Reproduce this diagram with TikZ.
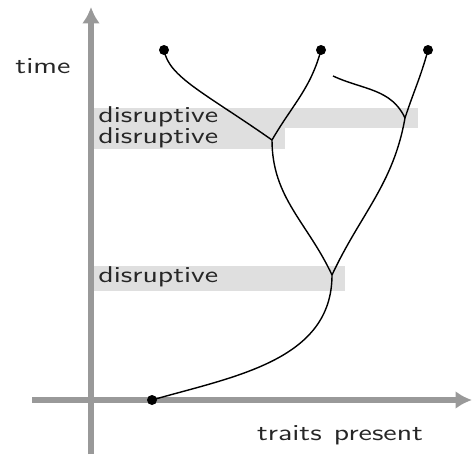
\documentclass[tikz,border=0pt]{standalone}
\usetikzlibrary{arrows.meta,positioning,calc}

\begin{document}
\begin{tikzpicture}[x=0.02cm,y=0.02cm,
	axis/.style={line width=3.4pt,gray!80,-{Latex[length=3.3mm,width=3.6mm]}},
	lineage/.style={thick,black},
	band/.style={fill=gray!25,inner sep=0,anchor=north west},
	lbl/.style={font=\sffamily\fontsize{13}{16}\selectfont,text=black!85,inner sep=0,xscale=1.34,transform shape},
	dot/.style={circle,fill=black,inner sep=0,minimum size=0.2cm}]
	\useasboundingbox (0,0) rectangle (473,454);

	% bands
	\node[band,minimum width=6.5cm,minimum height=0.4cm] (band1) at (93,346) {};
	\node[band,minimum width=3.84cm,minimum height=0.42cm] (band2) at (93,326) {};
	\node[band,minimum width=5.04cm,minimum height=0.5cm] (band3) at (93,188) {};
	\node[lbl,anchor=base west] (dis1) at (98,332) {disruptive};
	\node[lbl,anchor=base west] (dis2) at (98,311) {disruptive};
	\node[lbl,anchor=base west] (dis3) at (98,172) {disruptive};

	% axes
	\coordinate (ybot) at (91,0);
	\coordinate (ytop) at (91,447);
	\coordinate (xleft) at (32,54);
	\coordinate (xright) at (472,54);
	\draw[axis] (ybot) -- (ytop);
	\draw[axis] (xleft) -- (xright);
	\node[lbl,anchor=base west] (time) at (15,381) {time};
	\node[lbl,anchor=base] (traits) at (340,14) {traits\hspace{0.4em}present};

	% lineages
	\coordinate (A) at (332,179);
	\coordinate (B) at (272,314);
	\coordinate (C) at (405,336);
	\coordinate (E) at (333,378);
	\node[dot] (root) at (152,54) {};
	\node[dot] (tipL) at (164,404) {};
	\node[dot] (tipM) at (321,404) {};
	\node[dot] (tipR) at (428,404) {};
	\draw[lineage] (root.center) to[out=16,in=-90] (A);
	\draw[lineage] (A) to[out=115,in=-90] (B);
	\draw[lineage] (A) to[out=65,in=-100] (C);
	\draw[lineage] (B) to[out=145,in=-80,out looseness=1.5,in looseness=0.5] (tipL.center);
	\draw[lineage] (B) to[out=60,in=-105] (tipM.center);
	\draw[lineage] (C) to[out=72,in=-105] (tipR.center);
	\draw[lineage] (C) to[out=115,in=-25] (E);
\end{tikzpicture}
\end{document}
